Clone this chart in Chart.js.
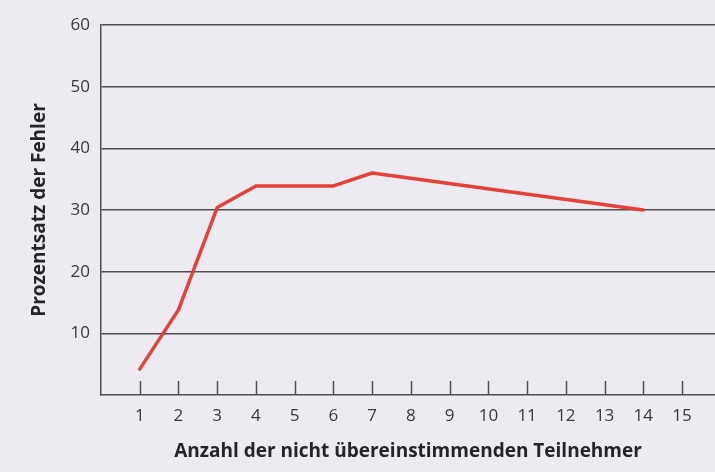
<!DOCTYPE html>
<html>
<head>
<meta charset="utf-8">
<script src="https://cdn.jsdelivr.net/npm/chart.js@4/dist/chart.umd.min.js"></script>
<style>
  html, body { margin: 0; padding: 0; background: #ecebf1; }
  #wrap { width: 715px; height: 472px; position: relative; }
</style>
</head>
<body>
<div id="wrap"><canvas id="fehlerChart"></canvas></div>
<script>
// Anzahl der nicht übereinstimmenden Teilnehmer
const teilnehmer = [1, 2, 3, 4, 6, 7, 14];
// Prozentsatz der Fehler
const fehlerProzent = [4.2, 13.8, 30.4, 33.9, 33.9, 36.0, 30.0];
const xTicks = [1, 2, 3, 4, 5, 6, 7, 8, 9, 10, 11, 12, 13, 14, 15];
const yTicks = [10, 20, 30, 40, 50, 60];

const inkColor = '#38383a';
const lineColor = '#4f4f52';

// short tick marks pointing up from the x axis
const innerTicks = {
  id: 'innerTicks',
  afterDatasetsDraw(chart) {
    const ctx = chart.ctx;
    const xs = chart.scales.x;
    const bottom = chart.chartArea.bottom;
    ctx.save();
    ctx.strokeStyle = lineColor;
    ctx.lineWidth = 1.5;
    xTicks.forEach(function(v) {
      const px = Math.round(xs.getPixelForValue(v)) + 0.5;
      ctx.beginPath();
      ctx.moveTo(px, bottom - 14);
      ctx.lineTo(px, bottom);
      ctx.stroke();
    });
    ctx.restore();
  }
};

document.addEventListener('DOMContentLoaded', function() {
  const ctx = document.getElementById('fehlerChart').getContext('2d');
  new Chart(ctx, {
    type: 'line',
    data: {
      datasets: [{
        data: teilnehmer.map((x, i) => ({ x: x, y: fehlerProzent[i] })),
        borderColor: '#e6403b',
        borderWidth: 3.5,
        pointRadius: 0,
        tension: 0,
        borderCapStyle: 'round',
        borderJoinStyle: 'round'
      }]
    },
    options: {
      responsive: true,
      maintainAspectRatio: false,
      animation: false,
      layout: { padding: { top: 25, right: 0, bottom: 0, left: 0 } },
      plugins: {
        legend: { display: false },
        tooltip: { enabled: false }
      },
      scales: {
        x: {
          type: 'linear',
          min: 0,
          max: 15.85,
          afterBuildTicks: function(scale) {
            scale.ticks = xTicks.map(v => ({ value: v }));
          },
          afterFit: function(scale) { scale.height = 77; },
          grid: { display: false, drawTicks: false },
          border: { display: true, color: lineColor, width: 1.5 },
          ticks: {
            color: inkColor,
            padding: 11,
            font: { family: 'Open Sans', size: 17 }
          },
          title: {
            display: true,
            text: 'Anzahl der nicht übereinstimmenden Teilnehmer',
            color: '#252527',
            padding: { top: 0, bottom: 9 },
            font: { family: 'Open Sans', size: 19, weight: 'bold' }
          }
        },
        y: {
          min: 0,
          max: 60,
          afterBuildTicks: function(scale) {
            scale.ticks = yTicks.map(v => ({ value: v }));
          },
          afterFit: function(scale) { scale.width = 101; },
          grid: { color: lineColor, lineWidth: 1.5, drawTicks: false },
          border: { display: true, color: lineColor, width: 1.5 },
          ticks: {
            color: inkColor,
            padding: 11,
            font: { family: 'Open Sans', size: 17 }
          },
          title: {
            display: true,
            text: 'Prozentsatz der Fehler',
            color: '#252527',
            padding: { top: 28, bottom: 0 },
            font: { family: 'Open Sans', size: 19, weight: 'bold' }
          }
        }
      }
    },
    plugins: [innerTicks]
  });
});
</script>
</body>
</html>
